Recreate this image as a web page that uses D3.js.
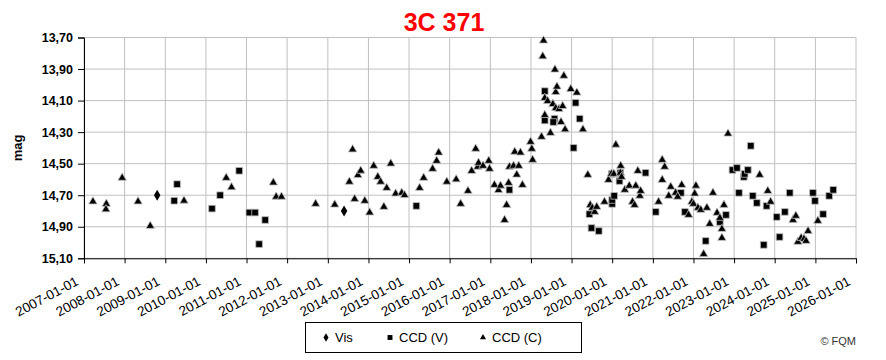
<!DOCTYPE html>
<html><head><meta charset="utf-8">
<script src="https://cdn.jsdelivr.net/npm/d3@7"></script>
<style>body{margin:0;background:#fff;}svg{display:block;font-family:"Liberation Sans",Arial,sans-serif;}</style>
</head><body><svg id="c" width="886" height="360"></svg>
<script>
const title = "3C 371";
const yTicks = [13.7, 13.9, 14.1, 14.3, 14.5, 14.7, 14.9, 15.1];
const visT = [2008.80, 2013.40];
const visM = [14.70, 14.80];
const ccdvT = [2009.22,2009.29,2010.15,2010.35,2010.82,2011.07,2011.21,2011.31,2011.46,2015.18,2017.47,2018.34,2018.34,2018.58,2018.55,2019.05,2019.10,2019.20,2019.44,2019.49,2019.67,2020.00,2020.00,2020.05,2019.99,2020.18,2020.20,2020.82,2021.07,2021.69,2021.79,2022.30,2022.65,2022.80,2022.96,2023.07,2023.12,2023.24,2023.26,2023.34,2023.41,2023.46,2023.56,2023.73,2023.80,2024.05,2024.12,2024.25,2024.37,2024.94,2024.99,2025.19,2025.34,2025.44];
const ccdvM = [14.735,14.63,14.785,14.70,14.545,14.81,14.81,15.01,14.857,14.768,14.666,14.04,14.226,14.215,14.236,14.40,14.114,14.215,14.82,14.908,14.927,14.755,14.73,14.704,14.565,14.61,14.558,14.558,14.806,14.685,14.806,14.99,14.87,14.825,14.54,14.527,14.685,14.584,14.565,14.54,14.387,14.704,14.749,15.015,14.768,14.838,14.965,14.806,14.685,14.685,14.736,14.82,14.704,14.666];
const ccdcT = [2007.22,2007.55,2007.54,2007.94,2008.33,2008.63,2009.46,2010.50,2010.63,2011.66,2011.73,2011.86,2012.70,2013.17,2013.53,2013.61,2013.66,2013.74,2013.81,2013.91,2014.03,2014.13,2014.23,2014.30,2014.38,2014.45,2014.55,2014.67,2014.82,2014.89,2015.26,2015.36,2015.58,2015.68,2015.73,2015.93,2016.16,2016.27,2016.45,2016.54,2016.64,2016.69,2016.71,2016.82,2016.96,2016.98,2017.10,2017.20,2017.25,2017.35,2017.40,2017.45,2017.47,2017.57,2017.60,2017.65,2017.70,2017.74,2017.79,2017.99,2018.02,2018.04,2018.26,2018.29,2018.31,2018.34,2018.34,2018.41,2018.48,2018.54,2018.59,2018.61,2018.61,2018.64,2018.69,2018.74,2018.78,2018.81,2018.84,2018.98,2019.13,2019.28,2019.40,2019.46,2019.51,2019.57,2019.62,2019.81,2019.91,2019.98,2020.04,2020.09,2020.20,2020.21,2020.23,2020.31,2020.42,2020.50,2020.55,2020.58,2020.63,2020.68,2020.70,2021.14,2021.23,2021.23,2021.29,2021.39,2021.44,2021.56,2021.61,2021.71,2021.88,2021.96,2022.00,2022.03,2022.06,2022.11,2022.18,2022.25,2022.33,2022.40,2022.48,2022.58,2022.65,2022.70,2022.70,2022.75,2022.85,2023.63,2023.83,2023.90,2024.45,2024.52,2024.57,2024.65,2024.72,2024.77,2024.82,2025.06];
const ccdcM = [14.74,14.755,14.79,14.59,14.74,14.895,14.735,14.59,14.65,14.62,14.71,14.71,14.755,14.76,14.615,14.41,14.724,14.573,14.545,14.736,14.81,14.514,14.584,14.615,14.774,14.654,14.50,14.69,14.685,14.70,14.654,14.59,14.533,14.482,14.43,14.615,14.60,14.755,14.673,14.546,14.406,14.52,14.495,14.514,14.482,14.533,14.635,14.668,14.64,14.857,14.762,14.622,14.52,14.514,14.425,14.57,14.514,14.43,14.635,14.362,14.406,14.476,14.33,13.82,13.72,14.084,14.192,14.103,14.305,14.122,13.904,14.046,14.148,14.012,14.154,14.236,14.135,13.943,14.283,14.027,14.05,14.283,14.571,14.762,14.78,14.806,14.774,14.742,14.603,14.565,14.565,14.38,14.558,14.514,14.584,14.666,14.64,14.742,14.762,14.64,14.546,14.704,14.673,14.742,14.476,14.603,14.52,14.704,14.647,14.685,14.71,14.635,14.825,14.742,14.755,14.69,14.64,14.78,14.793,15.073,14.78,14.882,14.685,14.812,14.844,14.914,14.971,14.762,14.31,14.571,14.673,14.742,14.857,14.831,14.996,14.971,14.977,14.99,14.927,14.863];
const legendLabels = ["Vis", "CCD (V)", "CCD (C)"];

function toDate(y){const yr=Math.floor(y);const s=Date.UTC(yr,0,1),e=Date.UTC(yr+1,0,1);return new Date(s+(y-yr)*(e-s));}

const L=84,R=856,T=37.5,B=258.3;
const svg=d3.select("#c");
const x=d3.scaleUtc().domain([new Date(Date.UTC(2007,0,1)),new Date(Date.UTC(2026,0,1))]).range([L,R]);
const y=d3.scaleLinear().domain([13.7,15.1]).range([T,B]);
const years=d3.utcYear.range(new Date(Date.UTC(2007,0,1)),new Date(Date.UTC(2026,0,2)));

// grid
svg.append("g").selectAll("line").data(yTicks).join("line")
 .attr("x1",L).attr("x2",R).attr("y1",d=>y(d)).attr("y2",d=>y(d)).attr("stroke","#c0c0c0").attr("stroke-width",1);
svg.append("g").selectAll("line").data(years).join("line")
 .attr("x1",d=>x(d)).attr("x2",d=>x(d)).attr("y1",T).attr("y2",B).attr("stroke","#c0c0c0").attr("stroke-width",1);

// axes
const fmtY=d=>d3.format(".2f")(d).replace(".",",");
const ya=svg.append("g").attr("transform",`translate(${L},0)`).call(d3.axisLeft(y).tickValues(yTicks).tickFormat(fmtY).tickSize(6).tickPadding(5));
ya.select(".domain").attr("stroke","#000");
ya.selectAll("text").attr("font-size",12.5).attr("font-weight","bold").attr("fill","#000").attr("font-family","Liberation Sans, Arial");
const xa=svg.append("g").attr("transform",`translate(0,${B})`).call(d3.axisBottom(x).tickValues(years).tickFormat(d3.utcFormat("%Y-%m-%d")).tickSize(5));
xa.select(".domain").attr("stroke","#000");
xa.selectAll("text").attr("font-size",13.5).attr("fill","#000").attr("font-family","Liberation Sans, Arial")
 .attr("text-anchor","end").attr("x",-5).attr("y",26).attr("dy",0).attr("transform","rotate(-28,-5,26)");

// marks
const sq=d3.symbol().type(d3.symbolSquare).size(44);
const tri=d3.symbol().type(d3.symbolTriangle).size(30);
const dia=d3.symbol().type(d3.symbolDiamond).size(36);
svg.append("g").selectAll("path").data(d3.range(ccdvT.length)).join("path")
 .attr("d",sq).attr("transform",i=>`translate(${x(toDate(ccdvT[i]))},${y(ccdvM[i])})`).attr("fill","#000").attr("stroke","#bbb").attr("stroke-width",0.8);
svg.append("g").selectAll("path").data(d3.range(ccdcT.length)).join("path")
 .attr("d",tri).attr("transform",i=>`translate(${x(toDate(ccdcT[i]))},${y(ccdcM[i])})`).attr("fill","#000").attr("stroke","#bbb").attr("stroke-width",0.8);
svg.append("g").selectAll("path").data(d3.range(visT.length)).join("path")
 .attr("d",dia).attr("transform",i=>`translate(${x(toDate(visT[i]))},${y(visM[i])})`).attr("fill","#000");

// title & labels
svg.append("text").attr("x",444).attr("y",31).attr("text-anchor","middle").attr("font-size",25).attr("font-weight","bold").attr("fill","#ff0000").text(title);
svg.append("text").attr("transform","translate(22,148) rotate(-90)").attr("text-anchor","middle").attr("font-size",13).attr("font-weight","bold").text("mag");

// legend
svg.append("rect").attr("x",305.5).attr("y",322.5).attr("width",276).attr("height",30).attr("fill","#fff").attr("stroke","#000");
const lx=[326,390,483];
const lsym=[d3.symbol().type(d3.symbolDiamond).size(22),d3.symbol().type(d3.symbolSquare).size(24),d3.symbol().type(d3.symbolTriangle).size(16)];
legendLabels.forEach((t,i)=>{
 svg.append("path").attr("d",lsym[i]).attr("transform",`translate(${lx[i]},337.5)`).attr("fill","#000");
 svg.append("text").attr("x",lx[i]+9).attr("y",342).attr("font-size",13).text(t);
});
svg.append("text").attr("x",856).attr("y",345).attr("text-anchor","end").attr("font-size",11).attr("fill","#333").text("© FQM");
</script></body></html>
